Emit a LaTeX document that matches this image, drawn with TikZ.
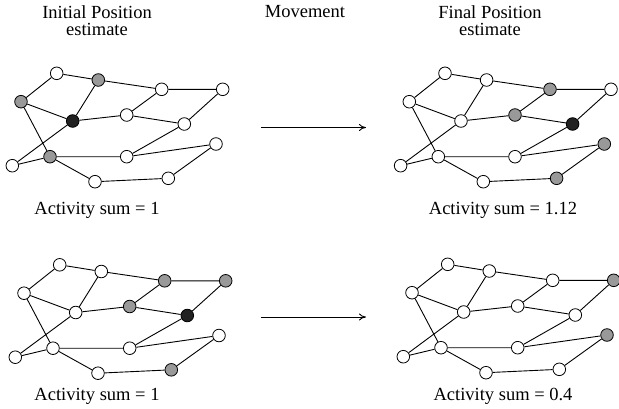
\documentclass[tikz,border=0pt]{standalone}
\usepackage{fontspec}
\setmainfont{Liberation Serif}
\usetikzlibrary{arrows.meta}
\definecolor{gfill}{gray}{0.6}
\definecolor{bfill}{gray}{0.13}
\tikzset{
  vtx/.style={circle, draw=black, fill=white, line width=0.8pt, minimum size=12.6pt, inner sep=0pt},
  edge/.style={line width=0.9pt},
  gv/.style={fill=gfill}, bv/.style={fill=bfill},
  vA/.style={}, vB/.style={}, vC/.style={}, vD/.style={}, vE/.style={}, vF/.style={}, vG/.style={},
  vH/.style={}, vI/.style={}, vJ/.style={}, vK/.style={}, vL/.style={}, vM/.style={}, vN/.style={},
  lbl/.style={font=\fontsize{18.5}{17}\selectfont, align=center, inner sep=0pt},
  mv/.style={line width=0.9pt, -{To[length=7pt,width=7pt]}},
}
\newcommand\mygraph[3]{%
 \begin{scope}[shift={(#2,#3)}, name prefix=#1-]
  \node[vtx,vA] (A) at (56.7,-73.3) {};
  \node[vtx,vB] (B) at (98.3,-80) {};
  \node[vtx,vC] (C) at (161.7,-89.3) {};
  \node[vtx,vD] (D) at (222.7,-89.3) {};
  \node[vtx,vE] (E) at (21,-101.7) {};
  \node[vtx,vF] (F) at (72.7,-121) {};
  \node[vtx,vG] (G) at (126.7,-115) {};
  \node[vtx,vH] (H) at (184.3,-124) {};
  \node[vtx,vI] (I) at (216,-144) {};
  \node[vtx,vJ] (J) at (50,-156.7) {};
  \node[vtx,vK] (K) at (126.7,-156.7) {};
  \node[vtx,vL] (L) at (12.3,-165.7) {};
  \node[vtx,vM] (M) at (95,-181.7) {};
  \node[vtx,vN] (N) at (168.3,-178.3) {};
  \draw[edge] (A)--(B) (A)--(E) (B)--(C) (B)--(F) (C)--(D) (C)--(G) (D)--(H)
    (E)--(F) (E)--(J) (F)--(G) (F)--(L) (G)--(H) (H)--(K) (J)--(L) (J)--(K)
    (J)--(M) (K)--(I) (I)--(N) (M)--(N);
 \end{scope}}
\begin{document}
\begin{tikzpicture}[x=1pt,y=1pt]
\useasboundingbox (0,0) rectangle (619,-408);
\clip (0,0) rectangle (619,-408);
\begin{scope}[vB/.style=gv, vE/.style=gv, vJ/.style=gv, vF/.style=bv]
 \mygraph{g1}{0}{0}
\end{scope}
\begin{scope}[vC/.style=gv, vG/.style=gv, vI/.style=gv, vN/.style=gv, vH/.style=bv]
 \mygraph{g2}{388.3}{0}
\end{scope}
\begin{scope}[vC/.style=gv, vD/.style=gv, vG/.style=gv, vN/.style=gv, vH/.style=bv]
 \mygraph{g3}{3}{-191.5}
\end{scope}
\begin{scope}[vD/.style=gv, vI/.style=gv]
 \mygraph{g4}{391}{-191}
\end{scope}
\node[lbl] (t1) at (97,-20.5) {Initial Position\\estimate};
\node[lbl] (t2) at (305,-12) {Movement};
\node[lbl] (t3) at (490,-20.5) {Final Position\\estimate};
\coordinate (a1s) at (261,-127.5);
\coordinate (a1e) at (366,-127.5);
\coordinate (a2s) at (261,-317);
\coordinate (a2e) at (366,-317);
\draw[mv] (a1s) -- (a1e);
\draw[mv] (a2s) -- (a2e);
\node[lbl] (s1) at (97,-210) {Activity sum = 1};
\node[lbl] (s2) at (503,-210) {Activity sum = 1.12};
\node[lbl] (s3) at (97,-396) {Activity sum = 1};
\node[lbl] (s4) at (503,-396) {Activity sum = 0.4};
\end{tikzpicture}
\end{document}
